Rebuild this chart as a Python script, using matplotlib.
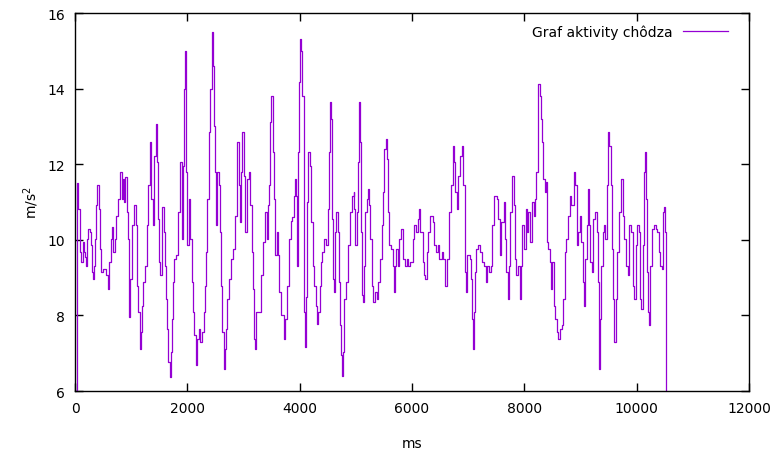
import matplotlib
matplotlib.use("Agg")
import matplotlib.pyplot as plt
import numpy as np

# time (ms) and acceleration magnitude (m/s^2)
ms = [12, 30, 47, 89, 107, 136, 160, 183, 195, 207, 237, 266, 278, 296, 314, 337, 355, 373, 396, 420,
      444, 467, 503, 550, 592, 609, 633, 657, 680, 704, 728, 757, 799, 834, 858, 876, 893, 917, 935, 953,
      970, 988, 1018, 1047, 1083, 1112, 1130, 1154, 1172, 1189, 1213, 1243, 1284, 1308, 1337, 1361, 1390,
      1414, 1438, 1461, 1485, 1503, 1521, 1544, 1556, 1586, 1609, 1627, 1645, 1663, 1686, 1704, 1728, 1746,
      1769, 1805, 1834, 1864, 1899, 1917, 1941, 1958, 1970, 1982, 2000, 2024, 2041, 2077, 2101, 2118, 2148,
      2166, 2207, 2231, 2266, 2296, 2319, 2337, 2355, 2379, 2396, 2438, 2456, 2473, 2485, 2503, 2533, 2556,
      2580, 2604, 2621, 2645, 2663, 2680, 2710, 2740, 2775, 2811, 2852, 2893, 2917, 2941, 2958, 2982, 3006,
      3029, 3065, 3095, 3118, 3148, 3166, 3183, 3201, 3225, 3272, 3314, 3355, 3391, 3414, 3432, 3450, 3479,
      3497, 3521, 3544, 3568, 3592, 3615, 3639, 3669, 3716, 3745, 3775, 3805, 3840, 3870, 3899, 3923, 3941,
      3958, 3970, 3994, 4012,
      4030, 4047, 4071, 4077, 4089, 4110, 4130, 4148, 4178, 4207, 4237, 4260, 4284, 4308, 4331, 4355, 4379,
      4402, 4426, 4462, 4497, 4521, 4544, 4562, 4580, 4598, 4609, 4627, 4651, 4680, 4698, 4716, 4734, 4751,
      4769, 4793, 4817, 4858, 4888, 4929, 4959, 4976, 4994, 5012, 5035, 5053, 5071, 5089, 5112, 5130, 5154,
      5172, 5195, 5225, 5243, 5260, 5284, 5314, 5337, 5373, 5396, 5432, 5462, 5485, 5509, 5533, 5550, 5568,
      5586, 5627, 5663, 5686, 5698, 5722, 5751, 5775, 5805, 5846, 5882, 5905, 5935, 5964, 6012, 6041, 6071,
      6101, 6130, 6148, 6189, 6213, 6237, 6260, 6290, 6319, 6367, 6396, 6426, 6456, 6485, 6527, 6556, 6592,
      6627, 6663, 6692, 6722, 6740, 6769, 6793, 6817, 6852, 6888, 6911, 6935, 6947, 6964, 6988, 7035, 7059,
      7071, 7089, 7106, 7124, 7148, 7183, 7213, 7242, 7284, 7314, 7343, 7373, 7402, 7432, 7467, 7509, 7538,
      7568, 7592, 7633, 7657, 7680, 7704, 7728, 7751, 7787, 7811, 7834, 7858, 7882, 7917, 7941, 7964, 8000,
      8024, 8047, 8071, 8106, 8142, 8166, 8189, 8213, 8237, 8249, 8278, 8300, 8320, 8330, 8360, 8379, 8400,
      8430, 8460, 8480, 8500, 8525, 8546,
      8576, 8606, 8635, 8671, 8694, 8718, 8742, 8777, 8807, 8836, 8884, 8902, 8931, 8961, 8991, 9014, 9038,
      9068, 9086, 9109, 9133, 9151, 9175, 9198, 9228, 9263, 9287, 9311, 9323, 9335, 9347, 9370, 9394, 9418,
      9441, 9465, 9489, 9512, 9536, 9560, 9583, 9601, 9625, 9649, 9678, 9726, 9755, 9779, 9809, 9838, 9868,
      9903, 9939, 9957, 9987, 10010, 10034, 10058, 10081, 10105, 10123, 10140, 10158, 10182, 10200, 10218,
      10236, 10265, 10301, 10342, 10366, 10396, 10419, 10449, 10467, 10479, 10503, 10520, 10526]

acc = [6.0, 11.50, 10.82, 9.67, 9.41, 9.94, 9.67, 9.54, 9.32, 10.03, 10.29, 10.20, 9.85, 9.15, 8.97, 9.32,
       10.03, 10.91, 11.44, 10.82, 9.76, 9.15, 9.23, 9.06, 8.70, 9.41, 10.03, 10.33, 9.67, 10.03, 10.64,
       11.08, 11.79, 11.08, 11.61, 11.0, 11.66, 10.73, 10.03, 8.97, 7.96, 8.97, 10.38, 10.91, 10.38, 8.79,
       8.09, 7.12, 7.56, 8.26, 8.88, 9.32, 10.38, 11.44, 12.58, 11.08, 10.38, 12.23, 13.07, 12.05, 10.56,
       9.41, 9.06, 10.20, 10.86, 10.20, 9.32, 8.44, 7.65, 6.77, 6.37, 7.03, 7.91, 8.88, 9.50, 9.59, 10.73,
       12.05, 10.03, 11.96, 13.99, 15.0, 13.37, 11.79, 9.85, 11.08, 10.03, 8.88, 8.09, 7.47, 6.68, 7.38,
       7.65, 7.30, 7.56, 8.09, 8.79, 9.67, 11.08, 12.85, 13.99, 15.49, 14.61, 13.02, 11.79, 10.38, 11.79,
       11.44, 10.20, 8.79, 7.56, 6.59, 7.12, 7.65, 8.44, 8.97, 9.50, 9.76, 10.64, 12.58, 11.44, 10.47,
       11.79, 12.85, 11.70, 10.20, 11.61, 11.79, 10.91, 9.67, 8.70, 7.38, 7.12, 8.09, 8.09, 9.06, 9.94,
       10.73, 10.03, 10.91, 11.44, 13.11, 13.81, 12.32, 11.08, 9.59, 10.20, 9.59, 8.62, 8.0, 7.38, 7.91,
       8.79, 10.03, 10.5, 10.6, 11.17, 11.61, 11.17, 9.32, 12.32, 14.17, 15.31,
       15.0, 13.81, 12.05, 8.09, 7.16, 8.5, 11.0, 12.32, 11.96, 10.47, 9.32, 8.79, 8.26, 7.78, 8.09, 8.79,
       9.41, 9.67, 10.03, 9.85, 10.82, 12.32, 13.64, 13.20, 10.56, 8.97, 8.62, 10.20, 10.73, 10.20, 8.88,
       7.74, 6.94, 6.41, 7.03, 8.44, 8.88, 9.85, 10.73, 11.17, 11.26, 10.82, 9.85, 10.73, 12.05, 13.64,
       12.58, 10.20, 8.53, 8.35, 9.32, 10.73, 11.08, 11.35, 10.91, 10.03, 8.79, 8.35, 8.62, 8.44, 8.88,
       9.50, 10.38, 11.26, 12.41, 12.67, 12.14, 10.73, 9.85, 9.76, 9.32, 8.62, 9.32, 9.76, 9.32, 10.03,
       10.29, 9.50, 9.32, 9.50, 9.32, 9.41, 10.03, 10.38, 10.20, 10.56, 10.82, 10.20, 9.41, 9.06, 8.97,
       9.67, 10.20, 10.64, 10.47, 9.85, 9.67, 9.85, 9.50, 9.67, 9.50, 8.79, 9.50, 10.73, 11.44, 12.49,
       12.05, 11.26, 10.82, 11.70, 12.23, 12.49, 11.44, 10.56, 9.15, 8.62, 9.59, 9.50, 8.97, 7.91, 7.12,
       8.09, 9.15, 9.76, 9.85, 9.67, 9.41, 9.32, 8.88, 9.32, 9.15, 9.32, 10.38, 11.17, 11.08, 10.56, 9.59,
       10.47, 11.0, 10.03, 9.15, 8.44, 9.32, 10.73, 11.70, 10.91, 9.50, 9.06, 9.32, 8.44, 9.32, 10.38, 9.76,
       10.82, 10.20, 10.73, 9.94, 11.0, 10.64, 11.08, 11.79, 13.73, 14.12, 13.81, 13.20, 12.58, 11.61,
       11.26, 11.52, 9.94, 9.76, 9.41, 8.70, 9.41, 8.26, 7.91,
       7.56, 7.38, 7.65, 7.74, 8.44, 9.67, 10.03, 10.64, 11.17, 10.91, 11.79, 11.44, 9.85, 10.20, 10.64,
       9.94, 8.88, 8.26, 9.50, 10.38, 11.35, 10.38, 9.41, 9.15, 10.56, 10.73, 10.20, 8.88, 7.74, 6.59, 7.91,
       9.32, 10.20, 10.38, 10.03, 11.44, 12.85, 12.49, 11.44, 9.76, 8.44, 7.30, 8.44, 9.67, 10.73, 11.61,
       10.64, 10.03, 9.32, 9.06, 10.38, 10.20, 8.79, 8.44, 9.85, 10.38, 10.20, 8.44, 8.18, 9.85, 11.79,
       12.32, 11.08, 9.15, 8.09, 7.74, 9.32, 10.29, 10.38, 10.29, 10.20, 9.67, 9.32, 9.23, 10.73, 10.86,
       10.20, 9.94, 6.0]

x_ticks = [0, 2000, 4000, 6000, 8000, 10000, 12000]
y_ticks = [6, 8, 10, 12, 14, 16]

fig = plt.figure(figsize=(7.77, 4.52), dpi=100)
ax = fig.add_axes([75 / 777, 1 - 392 / 452, 674 / 777, 378 / 452])

ax.plot(ms, acc, color="#9400d3", lw=0.9, drawstyle="steps-post", label="Graf aktivity chôdza")

ax.set_xlim(0, 12000)
ax.set_ylim(6, 16)
ax.set_xticks(x_ticks)
ax.set_yticks(y_ticks)
ax.tick_params(direction="in", top=True, right=True, length=6, width=1, labelsize=10, pad=7)
for s in ax.spines.values():
    s.set_linewidth(1)

ax.set_xlabel("ms", fontsize=10, labelpad=15)
ax.set_ylabel("m/s$^2$", fontsize=10, labelpad=5)

ax.legend(loc="upper right", frameon=False, markerfirst=False, fontsize=10,
          handlelength=3.2, borderaxespad=0.4, bbox_to_anchor=(0.985, 1.0))

fig.savefig("out.png", dpi=100)
